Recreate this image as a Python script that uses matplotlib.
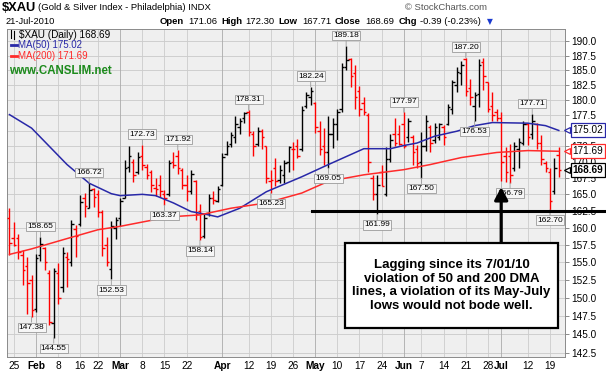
import numpy as np
import pandas as pd
import matplotlib
matplotlib.use('Agg')
import matplotlib.pyplot as plt
import matplotlib.transforms as mtransforms
from matplotlib.lines import Line2D
from matplotlib.patches import Rectangle

plt.rcParams['font.family'] = ['Liberation Sans', 'DejaVu Sans']

# ---- data ----
holidays = ['2010-02-15', '2010-04-02', '2010-05-31', '2010-07-05']

opens = [161.5, 158.5, 158.5, 156.0, 154.5, 152.5,  # Jan
         148.5, 156.0, 157.0, 153.5, 146.5, 153.5, 151.5, 155.8, 155.0, 159.8,
         160.5, 164.5, 163.0, 165.8, 165.0, 162.3, 157.5, 154.0, 160.0,  # Feb
         161.5, 164.5, 169.2, 170.0, 168.5, 171.0, 169.2, 168.5, 166.0, 166.5,
         165.0, 165.0, 170.0, 171.0, 168.8, 166.5, 165.5, 167.0, 162.5, 158.8,
         162.2, 164.5, 164.0,  # Mar
         166.5, 171.3, 172.8, 174.0, 175.5, 177.0, 178.0, 174.5, 172.8, 175.0,
         172.5, 167.0, 169.0, 167.2, 168.0, 170.0, 172.0, 172.5, 172.0, 179.0, 180.5,  # Apr
         179.5, 175.0, 172.5, 171.5, 174.5, 176.0, 178.5, 185.5, 187.0, 184.5,
         181.5, 179.5, 177.5, 167.5, 165.0, 168.5, 165.0, 170.5, 174.5, 174.5,  # May
         176.0, 174.0, 174.0, 172.0, 170.0, 172.5, 175.5, 173.5, 174.0, 175.5,
         176.0, 178.5, 182.5, 184.5, 187.0, 182.0, 179.0, 181.0, 186.5, 183.0,
         179.0, 178.0,  # Jun
         177.0, 171.0, 171.0, 169.0, 172.0, 173.0, 176.0, 174.5, 176.0, 173.0,
         169.8, 168.5, 165.5, 171.06]  # Jul
highs = [162.9, 160.9, 159.0, 156.7, 155.7, 153.2,
         156.2, 158.65, 157.2, 153.9, 154.2, 154.8, 157.2, 156.5, 161.2, 160.4,
         164.9, 165.2, 166.72, 166.0, 165.6, 162.65, 158.7, 161.0, 161.6,
         164.4, 170.3, 172.5, 170.5, 171.6, 172.73, 169.7, 168.8, 167.5, 167.9,
         165.6, 170.3, 171.5, 171.92, 169.0, 168.0, 168.8, 167.2, 163.5, 162.0,
         165.0, 165.5, 166.2,
         171.4, 173.3, 174.8, 177.4, 177.0, 178.0, 178.31, 175.0, 175.6, 175.2,
         172.6, 168.8, 170.7, 169.5, 170.3, 172.6, 173.2, 173.6, 179.0, 181.4, 182.24,
         179.6, 176.5, 175.4, 177.3, 177.0, 178.5, 186.3, 189.18, 187.1, 185.9,
         182.3, 180.5, 177.8, 168.0, 168.0, 169.6, 172.3, 174.5, 177.0, 175.9,
         177.97, 177.0, 174.3, 172.7, 174.8, 177.5, 175.9, 176.2, 176.2, 175.9,
         179.3, 183.4, 185.6, 186.6, 187.20, 183.6, 181.4, 186.9, 187.1, 183.0,
         181.4, 178.5,
         178.0, 172.3, 172.8, 173.1, 173.8, 176.6, 176.3, 177.71, 176.3, 174.3,
         170.1, 169.0, 170.6, 172.30]
lows = [156.0, 157.3, 155.5, 151.8, 147.8, 147.38,
        148.0, 155.2, 153.9, 146.2, 144.55, 149.1, 150.8, 151.5, 154.4, 155.7,
        160.2, 161.6, 162.9, 163.1, 161.6, 155.9, 154.4, 152.53, 158.4,
        160.2, 164.4, 168.5, 166.9, 168.2, 168.8, 167.4, 165.4, 164.8, 164.6,
        163.37, 164.8, 169.0, 168.2, 165.8, 164.0, 165.0, 161.1, 158.14, 158.5,
        161.8, 163.5, 163.9,
        166.3, 171.1, 172.4, 173.0, 174.5, 176.3, 174.2, 171.0, 172.5, 172.0,
        166.7, 165.23, 166.3, 166.8, 166.7, 168.5, 168.8, 170.6, 171.7, 178.7, 179.2,
        174.6, 171.1, 169.6, 169.05, 172.2, 173.5, 178.0, 185.0, 182.2, 178.5,
        177.3, 177.6, 168.5, 164.2, 161.99, 166.2, 164.8, 170.0, 172.5, 172.7,
        172.2, 173.2, 169.6, 169.0, 167.50, 171.7, 171.6, 173.0, 173.5, 172.7,
        175.9, 177.7, 181.4, 182.5, 180.6, 179.2, 176.53, 178.9, 181.7, 178.0,
        176.5, 176.5,
        167.0, 166.9, 166.79, 168.6, 169.0, 172.7, 172.7, 173.6, 172.0, 169.6,
        168.5, 162.70, 165.0, 167.71]
closes = [157.8, 157.5, 156.5, 153.9, 152.0, 148.3,
          155.6, 157.6, 155.0, 146.6, 153.8, 150.0, 156.3, 155.4, 160.5, 158.8,
          163.8, 163.2, 165.6, 164.6, 162.3, 157.0, 155.0, 160.2, 161.2,
          164.0, 169.0, 171.0, 168.0, 170.8, 169.5, 168.0, 166.5, 165.8, 165.5,
          164.5, 169.8, 169.6, 169.0, 166.5, 165.5, 168.2, 162.0, 158.6, 161.5,
          164.5, 164.1, 165.8,
          170.8, 172.6, 174.3, 176.0, 176.6, 177.8, 174.8, 172.5, 175.0, 174.0,
          167.5, 167.2, 167.0, 168.8, 169.8, 172.3, 172.0, 171.0, 178.3, 180.8, 181.5,
          175.5, 172.0, 171.5, 174.5, 176.0, 178.0, 185.5, 186.8, 184.0, 180.5,
          178.5, 178.0, 170.0, 165.0, 166.5, 166.3, 170.5, 173.5, 173.0, 172.8,
          172.5, 176.5, 171.5, 169.8, 172.5, 176.5, 173.0, 175.5, 176.0, 174.0,
          178.8, 183.0, 184.8, 186.0, 181.5, 180.5, 180.8, 186.0, 184.0, 178.5,
          177.5, 177.0,
          170.0, 168.5, 168.0, 172.5, 173.2, 176.0, 174.0, 176.5, 173.0, 170.5,
          169.0, 164.0, 169.08, 168.69]

ma50_dates = ['2010-01-22', '2010-01-29', '2010-02-10', '2010-02-18', '2010-02-25',
              '2010-03-01', '2010-03-08', '2010-03-11', '2010-03-17', '2010-03-23',
              '2010-03-29', '2010-03-31', '2010-04-08', '2010-04-16', '2010-04-28',
              '2010-05-06', '2010-05-18', '2010-05-26', '2010-06-01', '2010-06-04',
              '2010-06-10', '2010-06-17', '2010-06-23', '2010-06-29', '2010-07-12',
              '2010-07-16', '2010-07-21']
ma50_vals = [177.6, 175.4, 169.6, 166.7, 165.1, 164.8, 165.0, 164.8, 163.7, 162.4,
             161.9, 161.6, 162.9, 165.4, 167.7, 169.6, 172.1, 172.1, 172.6, 173.0,
             174.1, 174.9, 175.8, 176.3, 176.2, 175.8, 175.02]
ma200_dates = ['2010-01-22', '2010-01-29', '2010-02-10', '2010-02-22', '2010-03-01',
               '2010-03-16', '2010-03-25', '2010-04-06', '2010-04-16', '2010-04-28',
               '2010-05-06', '2010-05-18', '2010-06-01', '2010-06-09', '2010-06-18',
               '2010-06-30', '2010-07-12', '2010-07-21']
ma200_vals = [156.1, 156.9, 158.4, 159.7, 160.2, 161.6, 161.9, 162.9, 163.7, 165.2,
              167.0, 168.0, 168.8, 169.6, 170.7, 171.5, 171.8, 171.69]

peak_labels = [('2010-01-29', 'low'), ('2010-02-02', 'high'), ('2010-02-05', 'low'),
               ('2010-02-18', 'high'), ('2010-02-25', 'low'), ('2010-03-08', 'high'),
               ('2010-03-15', 'low'), ('2010-03-18', 'high'), ('2010-03-25', 'low'),
               ('2010-04-12', 'high'), ('2010-04-19', 'low'), ('2010-04-30', 'high'),
               ('2010-05-06', 'low'), ('2010-05-12', 'high'), ('2010-05-21', 'low'),
               ('2010-06-01', 'high'), ('2010-06-07', 'low'), ('2010-06-21', 'high'),
               ('2010-06-23', 'low'), ('2010-07-06', 'low'), ('2010-07-13', 'high'),
               ('2010-07-19', 'low')]

tick_dates = ['2010-01-25', '2010-02-01', '2010-02-08', '2010-02-16', '2010-02-22',
              '2010-03-01', '2010-03-08', '2010-03-15', '2010-03-22', '2010-04-01',
              '2010-04-12', '2010-04-19', '2010-04-26', '2010-05-03', '2010-05-10',
              '2010-05-17', '2010-05-24', '2010-06-01', '2010-06-07', '2010-06-14',
              '2010-06-21', '2010-06-28', '2010-07-01', '2010-07-12', '2010-07-19']
tick_labels = ['25', 'Feb', '8', '16', '22', 'Mar', '8', '15', '22', 'Apr', '12', '19',
               '26', 'May', '10', '17', '24', 'Jun', '7', '14', '21', '28', 'Jul',
               '12', '19']
price_ticks = [142.5 + 2.5 * k for k in range(20)]

note = ('Lagging since its 7/01/10\nviolation of 50 and 200 DMA\n'
        'lines, a violation of its May-July\nlows would not bode well.')

# ---- trading calendar ----
days = pd.bdate_range('2010-01-22', '2010-07-21')
days = days[~days.isin(pd.to_datetime(holidays))]
pos = {d.strftime('%Y-%m-%d'): i for i, d in enumerate(days)}
x = np.arange(len(days))
o, h, l, c = map(np.array, (opens, highs, lows, closes))
prev = np.r_[np.inf, c[:-1]]
cols = np.where(c >= prev, 'black', '#ff0000')

W, H = 606, 375
fig = plt.figure(figsize=(W / 100, H / 100), dpi=100)
fig.patch.set_facecolor('white')


def fx(px):
    return px / W


def fy(py):
    return 1 - py / H


ax = fig.add_axes([fx(7), fy(357), (565 - 7) / W, (357 - 29) / H])
ax.set_facecolor('#efefef')
ax.set_yscale('log')
ax.set_xlim(-0.55, 125.4)
ax.set_ylim(142.0, 192.2)

# grid
for v in price_ticks:
    ax.axhline(v, color='#c9c9c9', lw=0.6, zorder=0)
for d, lab in zip(tick_dates, tick_labels):
    ax.axvline(pos[d], color='#aaaaaa' if lab.isalpha() else '#cccccc', lw=0.6, zorder=0)

# OHLC bars
ax.vlines(x, l, h, colors=cols, lw=1.0, zorder=3)
ax.hlines(o, x - 0.55, x, colors=cols, lw=1.0, zorder=3)
ax.hlines(c, x, x + 0.55, colors=cols, lw=1.0, zorder=3)

# moving averages
ax.plot([pos[d] for d in ma50_dates], ma50_vals, color='#2828a8', lw=1.1, zorder=4)
ax.plot([pos[d] for d in ma200_dates], ma200_vals, color='#ff2a2a', lw=1.1, zorder=4)

# axes styling
ax.set_xticks([pos[d] for d in tick_dates])
ax.set_xticklabels(tick_labels)
for t in ax.get_xticklabels():
    if t.get_text().isalpha():
        t.set_fontweight('bold')
ax.tick_params(axis='x', length=0, labelsize=7.3, pad=3)
# the 175.0 label sits fully under the MA(50) tag in the original
ylabels = ['' if v == 175.0 else '%.1f' % v for v in price_ticks]
ax.yaxis.set_major_locator(matplotlib.ticker.FixedLocator(price_ticks))
ax.yaxis.set_major_formatter(matplotlib.ticker.FixedFormatter(ylabels))
ax.yaxis.set_minor_locator(matplotlib.ticker.NullLocator())
ax.tick_params(axis='y', left=False, labelleft=False, right=True, labelright=True,
               length=3, width=0.6, color='#777777', labelsize=7.2, pad=1.5)
for s in ax.spines.values():
    s.set_color('#8a8a8a')
    s.set_linewidth(0.7)

# high/low labels
for d, kind in peak_labels:
    i = pos[d]
    v = h[i] if kind == 'high' else l[i]
    dy = 7.6 if kind == 'high' else -7.6
    ax.annotate('%.2f' % v, xy=(i, v), xytext=(0, dy), textcoords='offset points',
                ha='center', va='center', fontsize=6, zorder=6,
                bbox=dict(boxstyle='square,pad=0.15', fc='#f6f6f6', ec='#9a9a9a', lw=0.6),
                arrowprops=dict(arrowstyle='-', color='#9a9a9a', lw=0.6,
                                shrinkA=0, shrinkB=0))

# right-hand value tags
blend = mtransforms.blended_transform_factory(ax.transAxes, ax.transData)
for val, ec, bold in [(ma50_vals[-1], '#2828a8', False), (ma200_vals[-1], '#ff2a2a', False),
                      (closes[-1], 'black', True)]:
    ax.annotate('%.2f' % val, xy=(1.0, val), xycoords=blend, xytext=(5.5, 0),
                textcoords='offset points', ha='left', va='center', fontsize=7.2,
                fontweight='bold' if bold else 'normal', zorder=8, annotation_clip=False,
                bbox=dict(boxstyle='square,pad=0.2', fc='white', ec=ec, lw=0.9))
    ax.plot([1.004], [val], marker='<', ms=5, mfc='white', mec=ec, mew=0.9,
            transform=blend, clip_on=False, zorder=9)

# support line and arrow
ax.plot([0.547, 1.075], [162.5, 162.5], transform=blend, color='black', lw=2.2,
        clip_on=False, zorder=7)
ax.annotate('', xy=(pos['2010-07-01'], 166.1), xytext=(pos['2010-07-01'], 157.8),
            arrowprops=dict(arrowstyle='-|>,head_length=0.75,head_width=0.4', lw=2.3,
                            color='black', shrinkA=0, shrinkB=0), zorder=9)

# note box
ax.add_patch(Rectangle((0.6057, 0.0884), 0.3817, 0.2591, transform=ax.transAxes,
                       fc='white', ec='black', lw=1.6, zorder=10))
ax.text(0.7966, 0.218, note, transform=ax.transAxes, ha='center', va='center',
        fontsize=9.5, fontweight='bold', linespacing=1.2, zorder=11)

# legend inside plot
fig.text(fx(19), fy(34.5), '$XAU (Daily) 168.69', fontsize=7.2, va='center')
fig.add_artist(Line2D([fx(11), fx(11)], [fy(30), fy(38)], color='black', lw=0.8))
fig.add_artist(Line2D([fx(14), fx(14)], [fy(31), fy(39)], color='black', lw=0.8))
fig.text(fx(18), fy(45), 'MA(50) 175.02', fontsize=7, va='center', color='#2828a8')
fig.add_artist(Line2D([fx(10.5), fx(17)], [fy(45), fy(45)], color='#2828a8', lw=2))
fig.text(fx(18), fy(56), 'MA(200) 171.69', fontsize=7, va='center', color='#ff2a2a')
fig.add_artist(Line2D([fx(10.5), fx(17)], [fy(56), fy(56)], color='#ff2a2a', lw=2))
fig.text(fx(9.5), fy(71), 'www.CANSLIM.net', fontsize=8.3, fontweight='bold',
         va='center', color='#1c8a1c')

# header
fig.text(fx(2), fy(8), '$XAU', fontsize=9.3, fontweight='bold', va='center')
fig.text(fx(38), fy(8), '(Gold & Silver Index - Philadelphia) INDX', fontsize=6.8, va='center')
fig.text(fx(487), fy(8), '\u00a9 StockCharts.com', fontsize=6.8, va='center', ha='right',
         color='#555555')
fig.text(fx(6), fy(21.5), '21-Jul-2010', fontsize=6.7, va='center')
header = [(160, 'Open', True), (188, '171.06', False), (221, 'High', True),
          (245, '172.30', False), (278, 'Low', True), (302, '167.71', False),
          (335, 'Close', True), (365, '168.69', False), (399, 'Chg', True),
          (420, '-0.39 (-0.23%)', False)]
for px, s, b in header:
    fig.text(fx(px), fy(21.5), s, fontsize=6.8, va='center',
             fontweight='bold' if b else 'normal')
fig.text(fx(487), fy(22), '\u25bc', fontsize=5.5, va='center', color='#1a3ad0',
         family=['DejaVu Sans'])

fig.savefig('out.png', dpi=100)
